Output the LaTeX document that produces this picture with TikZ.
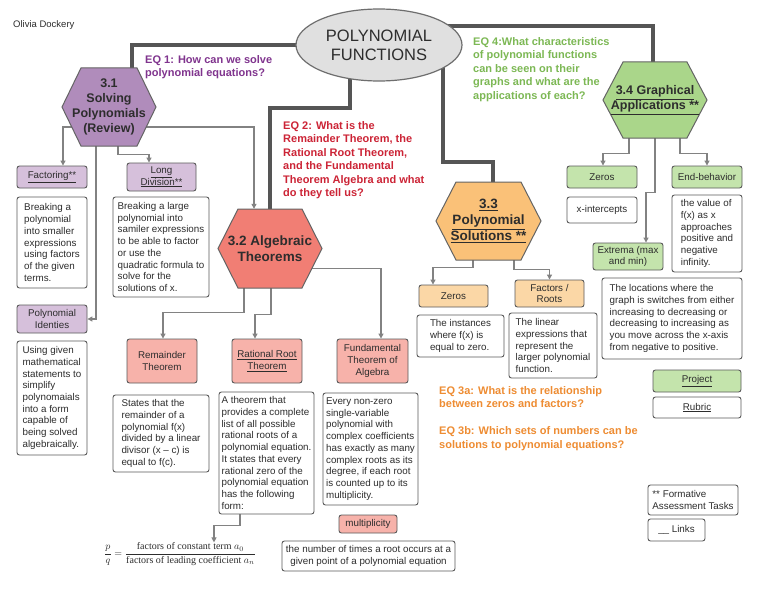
\documentclass[tikz,border=0pt]{standalone}
\usepackage{fontspec}
\setmainfont{Liberation Sans}
\newfontfamily\timesf{Liberation Serif}
\usetikzlibrary{shapes.geometric,arrows.meta}
\pgfdeclarelayer{bg}
\pgfsetlayers{bg,main}
\definecolor{txt}{RGB}{45,45,45}
\definecolor{bord}{RGB}{90,90,90}
\definecolor{thkc}{RGB}{85,85,85}
\definecolor{conc}{RGB}{130,130,130}
\definecolor{hexb}{RGB}{100,100,100}
\definecolor{titlef}{RGB}{224,224,224}
\definecolor{titleb}{RGB}{110,110,110}
\definecolor{phex}{RGB}{176,140,187}
\definecolor{pbx}{RGB}{214,192,219}
\definecolor{rhex}{RGB}{241,126,116}
\definecolor{rbx}{RGB}{247,178,170}
\definecolor{ohex}{RGB}{250,193,120}
\definecolor{obx}{RGB}{251,215,166}
\definecolor{ghex}{RGB}{170,214,138}
\definecolor{gbx}{RGB}{196,228,172}
\definecolor{eqp}{RGB}{128,52,142}
\definecolor{eqr}{RGB}{204,36,54}
\definecolor{eqo}{RGB}{238,140,50}
\definecolor{eqg}{RGB}{124,184,84}
\newcommand\drawhex[6]{%
  \draw[hexborder, fill=#6] ({#1-#3},#2) -- ({#1-#3+#5},{#2-#4}) -- ({#1+#3-#5},{#2-#4}) -- ({#1+#3},#2) -- ({#1+#3-#5},{#2+#4}) -- ({#1-#3+#5},{#2+#4}) -- cycle;}
\begin{document}
\begin{tikzpicture}[x=1pt,y=-1pt,
 box/.style={draw=bord, line width=0.9pt, rounded corners=2.5pt, inner sep=2pt, font=\fontsize{9.8}{11.7}\selectfont, text=txt, align=center},
 desc/.style={box, fill=white, align=left},
 pb/.style={box, fill=pbx}, rb/.style={box, fill=rbx}, ob/.style={box, fill=obx}, gb/.style={box, fill=gbx},
 hexlabel/.style={inner sep=0pt, text=txt, align=center, font=\bfseries\fontsize{12.5}{15}\selectfont},
 biglabel/.style={hexlabel, font=\bfseries\fontsize{13.5}{16}\selectfont},
 eqtext/.style={inner sep=0pt, align=left, anchor=north west, font=\bfseries\fontsize{11}{13.5}\selectfont},
 conn/.style={draw=conc, line width=1.2pt, -{Triangle[length=5pt,width=5pt]}},
 thk/.style={draw=thkc, line width=4pt},
 hexborder/.style={draw=hexb, line width=1pt},
 sz/.style 2 args={minimum width=#1pt, minimum height=#2pt}
]
\begin{pgfonlayer}{bg}
\fill[white] (0,0) rectangle (768,594);
\end{pgfonlayer}
\useasboundingbox (0,0) rectangle (768,594);

% author
\node[anchor=west, inner sep=0pt, font=\fontsize{9.5}{11}\selectfont, text=txt] (author) at (13,25) {Olivia Dockery};

% title
\node[ellipse, draw=titleb, fill=titlef, line width=1.2pt, minimum width=166pt, minimum height=72pt, inner sep=0pt, align=center, font=\fontsize{16.5}{19}\selectfont, text=txt] (title) at (379,45) {POLYNOMIAL\\FUNCTIONS};

% essential questions
\node[eqtext, text=eqp] (eq1) at (145,55) {EQ 1: How can we solve\\polynomial equations?};
\node[eqtext, text=eqr] (eq2) at (283,121) {EQ 2: What is the\\Remainder Theorem, the\\Rational Root Theorem,\\and the Fundamental\\Theorem Algebra and what\\do they tell us?};
\node[eqtext, text=eqg] (eq4) at (473,37) {EQ 4:What characteristics\\of polynomial functions\\can be seen on their\\graphs and what are the\\applications of each?};
\node[eqtext, text=eqo] (eq3) at (439,386) {EQ 3a: What is the relationship\\between zeros and factors?\\[13.5pt]EQ 3b: Which sets of numbers can be\\solutions to polynomial equations?};

% hexagons
\drawhex{109}{107}{47}{39}{19}{phex}
\node[hexlabel, sz={94}{78}] (h31) at (109,107) {3.1\\Solving\\Polynomials\\(Review)};
\drawhex{270}{248.5}{52}{39.5}{20}{rhex}
\node[biglabel, sz={104}{79}] (h32) at (270,248.5) {3.2 Algebraic\\Theorems};
\drawhex{488.5}{221}{52.5}{39}{20}{ohex}
\node[biglabel, sz={105}{78}] (h33) at (488.5,221) {\underline{3.3}\\\underline{Polynomial}\\\underline{Solutions **}};
\drawhex{655}{100}{52}{38}{20}{ghex}
\node[hexlabel, sz={104}{76}] (h34) at (655,100) {\underline{3.4 Graphical}\\\underline{Applications **}};

% 3.1 boxes
\node[pb, sz={70}{22}] (fact) at (52,177) {\underline{Factoring**}};
\node[desc, sz={70}{91}] (factd) at (52,242.5) {Breaking a\\polynomial\\into smaller\\expressions\\using factors\\of the given\\terms.};
\node[pb, sz={69}{28}] (ld) at (161.5,177) {\underline{Long}\\\underline{Division**}};
\node[desc, sz={96}{100}] (ldd) at (161,247) {Breaking a large\\polynomial into\\samiler expressions\\to be able to factor\\or use the\\quadratic formula to\\solve for the\\solutions of x.};
\node[pb, sz={70}{28}] (pid) at (52,319) {Polynomial\\Identies};
\node[desc, sz={70}{114}] (pidd) at (52,398) {Using given\\mathematical\\statements to\\simplify\\polynomaials\\into a form\\capable of\\being solved\\algebraically.};

% 3.2 boxes
\node[rb, sz={70}{44}] (rem) at (162,361) {Remainder\\Theorem};
\node[desc, sz={96}{77}] (remd) at (161,433.5) {States that the\\remainder of a\\polynomial f(x)\\divided by a linear\\divisor (x – c) is\\equal to f(c).};
\node[rb, sz={70}{44}] (rrt) at (267,361) {\underline{Rational Root}\\\underline{Theorem}};
\node[desc, sz={95}{122}] (rrtd) at (266.5,453) {A theorem that\\provides a complete\\list of all possible\\rational roots of a\\polynomial equation.\\It states that every\\rational zero of the\\polynomial equation\\has the following\\form:};
\node[rb, sz={71}{44}] (fta) at (372.5,361) {Fundamental\\Theorem of\\Algebra};
\node[desc, sz={95}{112}] (ftad) at (370.5,449) {Every non-zero\\single-variable\\polynomial with\\complex coefficients\\has exactly as many\\complex roots as its\\degree, if each root\\is counted up to its\\multiplicity.};
\node[rb, sz={58}{18}] (mult) at (368,524) {multiplicity};
\node[desc, align=center, sz={173}{30}] (multd) at (368.5,556) {the number of times a root occurs at a\\given point of a polynomial equation};
\node[inner sep=0pt, font=\fontsize{10}{12}\selectfont, text=txt] (formula) at (180,554) {$\displaystyle \frac{p}{q}=\frac{\mbox{\timesf factors of constant term }a_0}{\mbox{\timesf factors of leading coefficient }a_n}$};

% 3.3 boxes
\node[ob, sz={69}{22}] (zer3) at (453.5,296) {Zeros};
\node[desc, sz={87}{42}] (zer3d) at (460.5,336) {The instances\\where f(x) is\\equal to zero.};
\node[ob, sz={69}{27}] (fr) at (549.5,293.5) {Factors /\\Roots};
\node[desc, sz={88}{65}] (frd) at (553,345.5) {The linear\\expressions that\\represent the\\larger polynomial\\function.};

% 3.4 boxes
\node[gb, sz={70}{22}] (zer4) at (602,177) {Zeros};
\node[desc, align=center, sz={70}{26}] (xint) at (602,210) {x-intercepts};
\node[gb, sz={70}{22}] (eb) at (707,177) {End-behavior};
\node[desc, sz={70}{77}] (ebd) at (707,233.5) {the value of\\f(x) as x\\approaches\\positive and\\negative\\infinity.};
\node[gb, sz={70}{27}] (ext) at (628,256.5) {Extrema (max\\and min)};
\node[desc, sz={140}{81}] (extd) at (672,318.5) {The locations where the\\graph is switches from either\\increasing to decreasing or\\decreasing to increasing as\\you move across the x-axis\\from negative to positive.};
\node[gb, sz={88}{22}] (proj) at (697,381) {\underline{Project}};
\node[box, fill=white, sz={88}{21}] (rub) at (697,407.5) {\underline{Rubric}};
\node[desc, sz={90}{30}] (form) at (693,500) {** Formative\\Assessment Tasks};
\node[desc, sz={57}{22}] (links) at (676.5,530) {\_\_ Links};

% connectors
\begin{pgfonlayer}{bg}
\draw[thk] (title.center) -| ([xshift=23pt]h31.north);
\draw[thk] ([xshift=-29pt]title.center) -- ([xshift=-29pt,yshift=-63pt]title.center) -| (h32.north);
\draw[thk] ([xshift=64pt]title.center) -- ([xshift=64pt,yshift=-117pt]title.center) -| ([xshift=4.5pt]h33.north);
\draw[thk] ([xshift=60pt,yshift=19pt]title.center) -| ([xshift=-2pt]h34.north);

\draw[conn] ([yshift=-20pt]h31.center) -| ([xshift=11pt]fact.north);
\draw[conn] ([xshift=-13pt]h31.center) |- (pid.east);
\draw[conn] ([xshift=9pt]h31.center) -- ([xshift=9pt,yshift=-8pt]h31.south) -| ([xshift=-12.5pt]ld.north);
\draw[conn] ([yshift=-20pt]h31.center) -| ([xshift=-16pt]h32.north);

\draw[conn] ([xshift=-26pt]h32.center) -- ([xshift=-26pt,yshift=-24.5pt]h32.south) -| ([xshift=1pt]rem.north);
\draw[conn] ([xshift=1pt]h32.center) -- ([xshift=1pt,yshift=-26pt]h32.south) -| ([xshift=-12pt]rrt.north);
\draw[conn] ([yshift=-20pt]h32.center) -| ([xshift=8.5pt]fta.north);
\draw[conn] ([xshift=-26.5pt]rrtd.south) -- ([xshift=-26.5pt,yshift=-11pt]rrtd.south) -| ([xshift=34pt]formula.north);

\draw[conn] ([xshift=-15.5pt]h33.center) -- ([xshift=-15.5pt,yshift=-7pt]h33.south) -| ([xshift=-20.5pt]zer3.north);
\draw[conn] ([xshift=25.5pt]h33.center) -- ([xshift=25.5pt,yshift=-9pt]h33.south) -| (fr.north);

\draw[conn] ([xshift=-26pt]h34.center) -- ([xshift=-26pt,yshift=-15pt]h34.south) -| ([xshift=1pt]zer4.north);
\draw[conn] (h34.center) -- ([yshift=-54pt]h34.south) -| ([xshift=18pt]ext.north);
\draw[conn] ([xshift=25pt]h34.center) -- ([xshift=25pt,yshift=-15pt]h34.south) -| (eb.north);
\end{pgfonlayer}
\end{tikzpicture}
\end{document}
